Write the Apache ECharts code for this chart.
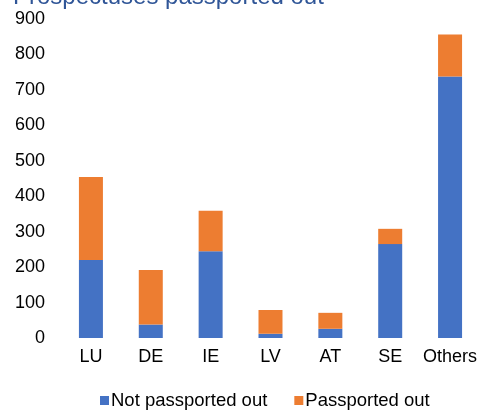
<!DOCTYPE html>
<html>
<head>
<meta charset="utf-8">
<script src="https://cdn.jsdelivr.net/npm/echarts@6/dist/echarts.min.js"></script>
<style>
  html, body { margin: 0; padding: 0; background: #fff; }
  #chart { width: 480px; height: 410px; }
</style>
</head>
<body>
<div id="chart"></div>
<script>
// Prospectuses by home member state, split by passporting status
const categories = ['LU', 'DE', 'IE', 'LV', 'AT', 'SE', 'Others'];
const notPassported = [220, 38, 245, 12, 26, 265, 738];
const passported = [234, 154, 114, 67, 45, 43, 118];
const yTicks = { min: 0, max: 900, interval: 100 };

const chart = echarts.init(document.getElementById('chart'), null, { renderer: 'canvas' });
const font = 'Liberation Sans, Arial, sans-serif';

chart.setOption({
  animation: false,
  title: {
    text: 'Prospectuses passported out',
    left: 8,
    top: -20,
    textStyle: { color: '#2F5597', fontSize: 24, fontWeight: 'normal', fontFamily: font }
  },
  grid: { left: 61, width: 420, top: 19, height: 319, containLabel: false },
  xAxis: {
    type: 'category',
    data: categories,
    axisLine: { show: false },
    axisTick: { show: false },
    axisLabel: { color: '#000', fontSize: 18, fontFamily: font, margin: 10, interval: 0 }
  },
  yAxis: {
    type: 'value',
    min: yTicks.min,
    max: yTicks.max,
    interval: yTicks.interval,
    splitLine: { show: false },
    axisLine: { show: false },
    axisTick: { show: false },
    axisLabel: { color: '#000', fontSize: 18, fontFamily: font, margin: 16 }
  },
  legend: {
    bottom: -5,
    left: 95,
    itemWidth: 9,
    itemHeight: 9,
    itemGap: 27,
    icon: 'rect',
    textStyle: { color: '#000', fontSize: 18.5, fontFamily: font, padding: [0, 0, 0, -3] },
    data: ['Not passported out', 'Passported out']
  },
  series: [
    {
      name: 'Not passported out',
      type: 'bar',
      stack: 'total',
      barWidth: 24,
      itemStyle: { color: '#4472C4' },
      data: notPassported
    },
    {
      name: 'Passported out',
      type: 'bar',
      stack: 'total',
      barWidth: 24,
      itemStyle: { color: '#ED7D31' },
      data: passported
    }
  ]
});
</script>
</body>
</html>
